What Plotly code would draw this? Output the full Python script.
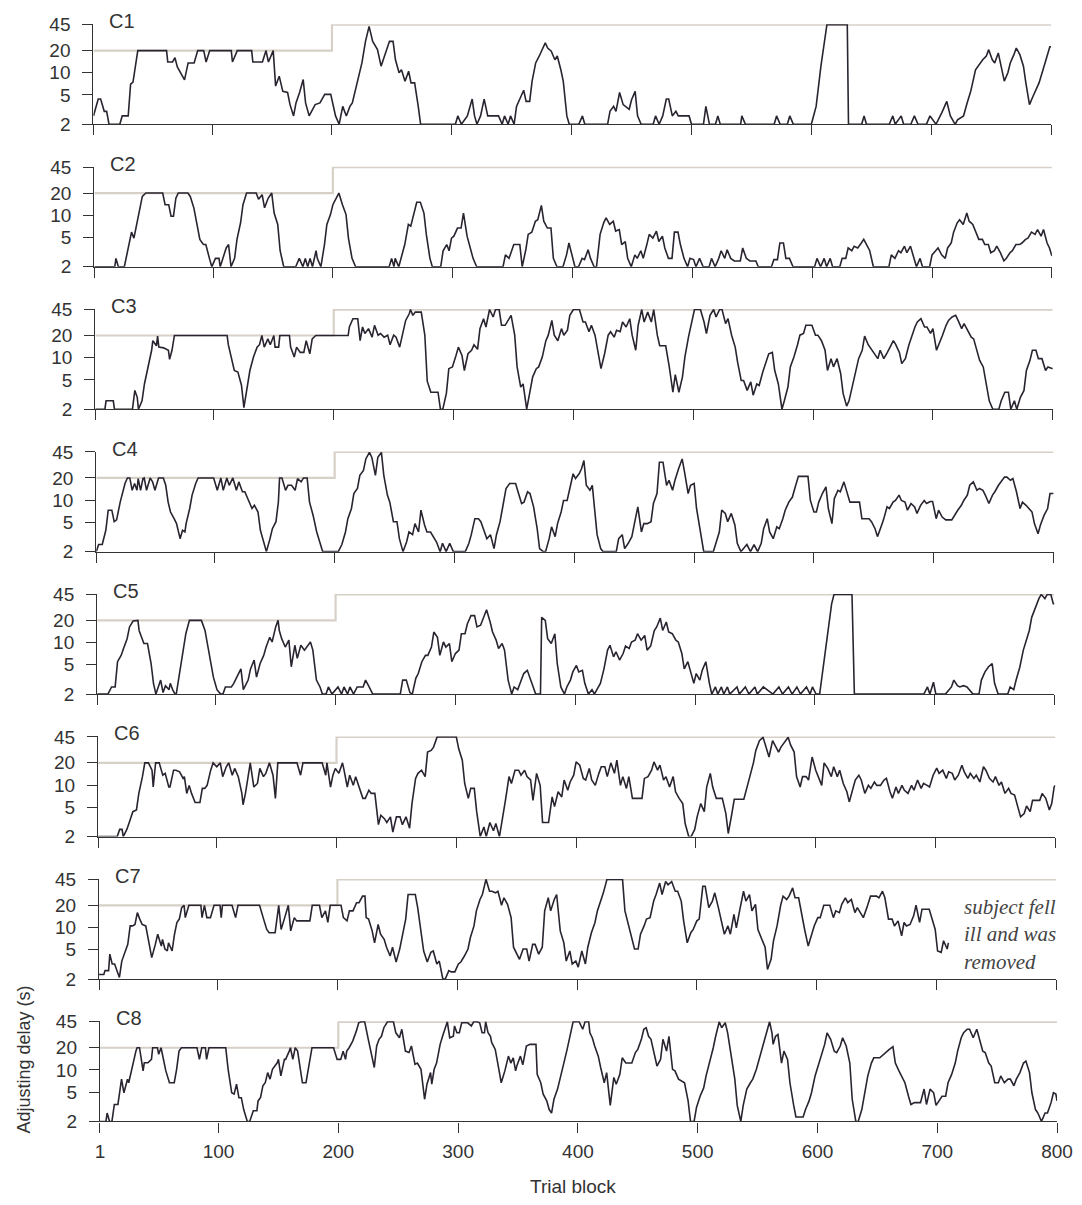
import numpy as np
import plotly.graph_objects as go

# adjusting delay (s) per trial block as (block, delay)
c1 = [(1, 2.6), (5, 4.4), (7, 4.4), (10, 3.0), (12, 3.0), (14, 2), (23, 2), (25, 2.6), (30, 2.6), (32, 7), (34, 7.5),
      (38, 20), (62, 20), (63, 14), (67, 14), (69, 16), (71, 12), (77, 8), (80, 13.6), (85, 13.6), (88, 20), (93, 20),
      (95, 14), (98, 20), (116, 20), (117, 14), (121, 20), (133, 20), (134, 14), (142, 14), (145, 20), (147, 14),
      (151, 20), (153, 6.6), (156, 9), (159, 5.6), (163, 5.4), (165, 3.7), (168, 2.6), (170, 3.9), (173, 5.4),
      (176, 8.1), (178, 3.9), (181, 2.6), (183, 3.0), (186, 3.7), (190, 3.9), (194, 5.1), (199, 5.1), (201, 3.7),
      (203, 2.6), (206, 2), (209, 3.5), (212, 2.6), (215, 3.5), (217, 3.9), (221, 7), (225, 13.6), (228, 26.7),
      (231, 42.6), (234, 26.7), (238, 20.6), (241, 12.3), (245, 18.6), (248, 26.7), (251, 26.7), (253, 15), (256, 10),
      (258, 11), (261, 7.7), (264, 10.5), (266, 7.3), (269, 7.3), (272, 3.5), (274, 2), (303, 2), (305, 2.6), (308, 2),
      (313, 2.6), (317, 4.4), (319, 2.6), (321, 2), (324, 2.6), (327, 4.4), (330, 2.6), (339, 2.6), (342, 2), (344, 2.6),
      (347, 2), (349, 2.6), (352, 2), (354, 3.5), (357, 4.4), (360, 5.8), (362, 4.1), (365, 4.1), (367, 7.7),
      (370, 13.6), (373, 16.9), (375, 19.6), (378, 25.4), (380, 21.6), (383, 19.6), (386, 15), (388, 16.9), (391, 11),
      (393, 7.7), (396, 2.6), (398, 2), (406, 2), (409, 2.6), (411, 2), (430, 2), (432, 3.0), (435, 3.5), (437, 3.0),
      (440, 5.4), (443, 3.7), (445, 3.5), (448, 3.2), (450, 4.3), (453, 5.6), (455, 2.6), (458, 2), (468, 2), (470, 2.6),
      (473, 2), (476, 2.6), (479, 4.4), (481, 4.4), (484, 2.6), (487, 3.0), (489, 2.6), (498, 2.6), (500, 2), (510, 2),
      (512, 3.5), (515, 2), (520, 2), (522, 2.6), (524, 2), (541, 2), (542, 2.6), (545, 2), (569, 2), (571, 2.6),
      (574, 2), (580, 2), (582, 2.6), (585, 2), (600, 2), (604, 3.5), (608, 12.3), (613, 45), (630, 45), (631, 2),
      (642, 2), (644, 2.6), (646, 2), (665, 2), (668, 2.6), (670, 2), (675, 2.6), (677, 2), (683, 2), (686, 2.6),
      (689, 2), (696, 2), (699, 2.6), (704, 2), (709, 2.9), (713, 4.1), (716, 2.6), (720, 2), (722, 2.3), (727, 2.6),
      (730, 3.9), (733, 5.6), (737, 11), (741, 13.6), (743, 15), (746, 16.9), (748, 20.6), (751, 15), (753, 13.6),
      (756, 18.6), (759, 11), (761, 7.7), (764, 10), (766, 13.6), (769, 17.6), (771, 21.6), (774, 17.6), (777, 12.3),
      (779, 7.3), (782, 3.7), (785, 4.8), (790, 7.3), (795, 13.6), (799, 22.5), (800, 22.5)]

c2 = [(1, 2), (18, 2), (19, 2.6), (21, 2), (26, 2), (30, 4.0), (32, 5.9), (34, 4.9), (36, 7.1), (38, 10.2), (41, 18),
      (44, 20), (58, 20), (60, 13.9), (63, 13.9), (65, 9.7), (67, 9.7), (69, 17), (71, 20), (79, 20), (81, 18),
      (84, 12.6), (87, 6.7), (89, 4.7), (92, 4.0), (94, 4.0), (97, 2.6), (99, 2), (102, 2.6), (105, 2.6), (106, 2),
      (109, 2.9), (111, 3.6), (113, 4.0), (115, 2), (118, 2.6), (120, 4.7), (123, 7.9), (125, 13.9), (128, 20),
      (136, 20), (138, 16.5), (141, 19), (143, 12.6), (146, 17), (149, 20), (151, 10.7), (154, 7.5), (156, 3.3),
      (159, 2), (169, 2), (172, 2.6), (175, 2), (177, 2.6), (179, 2), (181, 2.6), (183, 2), (186, 3.3), (187, 2.6),
      (190, 2), (193, 4.0), (195, 7.5), (198, 10.2), (200, 13.9), (205, 20), (208, 13.9), (211, 10.2), (213, 4.9),
      (216, 2.6), (219, 2), (247, 2), (249, 2.6), (251, 2), (252, 2.6), (255, 2), (260, 4.0), (263, 7.5), (265, 7.1),
      (268, 11.3), (270, 15), (273, 15), (276, 10.7), (278, 5.5), (281, 2.6), (283, 2), (290, 2), (292, 3.3), (295, 4.0),
      (297, 3.3), (299, 4.9), (301, 5.2), (304, 6.7), (307, 6.7), (309, 10.7), (312, 5.2), (314, 4.0), (317, 2.6),
      (320, 2), (342, 2), (344, 2.9), (347, 2.6), (351, 4.0), (356, 4.0), (358, 2), (361, 3.4), (363, 5.5), (366, 5.9),
      (369, 8.3), (371, 8.7), (374, 13.6), (376, 8.3), (379, 6.7), (382, 6.7), (384, 2.6), (387, 2), (392, 2),
      (395, 2.9), (397, 4.2), (400, 2.6), (402, 2), (405, 2), (408, 2.6), (410, 2.5), (413, 3.4), (415, 2.6), (418, 2),
      (420, 2), (423, 5.5), (426, 7.9), (428, 9.2), (431, 7.5), (434, 8.3), (436, 6.1), (439, 6.4), (441, 4.0),
      (444, 4.4), (446, 2.6), (449, 2), (452, 2.9), (454, 2.6), (457, 3.3), (459, 2.6), (462, 4.0), (464, 5.5),
      (467, 4.9), (470, 6.1), (472, 4.4), (475, 5.2), (477, 3.6), (480, 2.6), (483, 2.6), (485, 5.9), (488, 5.9),
      (490, 4.0), (493, 2.6), (496, 2), (498, 2.6), (501, 2.5), (503, 2), (506, 2.6), (509, 2), (514, 2), (516, 2.6),
      (519, 2), (522, 2.6), (524, 3.3), (527, 2.6), (529, 3.4), (532, 2.6), (535, 2.4), (540, 2.4), (542, 3.6),
      (545, 2.6), (548, 2.4), (553, 2.4), (555, 2), (566, 2), (568, 2.5), (571, 2.5), (573, 4.2), (576, 4.2), (578, 2.6),
      (581, 2.6), (584, 2), (602, 2), (604, 2.6), (607, 2), (610, 2.6), (612, 2), (615, 2.6), (617, 2), (623, 2),
      (625, 2.6), (628, 2.6), (630, 3.6), (633, 3.3), (635, 3.8), (638, 3.6), (641, 4.2), (643, 4.7), (646, 3.8),
      (648, 3.3), (651, 2), (664, 2), (666, 2.9), (669, 2.6), (672, 3.3), (674, 3.1), (677, 3.8), (679, 3.1), (682, 3.8),
      (685, 2.6), (687, 2), (690, 2.6), (692, 2), (698, 2), (700, 2.9), (703, 3.3), (705, 3.6), (708, 2.9), (711, 2.6),
      (713, 3.6), (716, 4.2), (718, 5.9), (721, 7.9), (723, 8.7), (726, 7.5), (729, 10.7), (731, 8.3), (734, 7.5),
      (737, 5.5), (739, 4.7), (742, 4.7), (744, 4.0), (747, 4.0), (749, 3.1), (752, 3.3), (754, 3.8), (757, 3.1),
      (760, 2.4), (762, 2.6), (765, 3.1), (767, 3.3), (770, 4.0), (773, 4.0), (775, 4.2), (778, 4.7), (780, 4.9),
      (783, 5.9), (786, 5.5), (788, 6.4), (791, 5.2), (793, 6.4), (796, 4.2), (798, 3.6), (800, 2.8)]

c3 = [(1, 2), (9, 2), (10, 2.6), (16, 2.6), (17, 2), (32, 2), (34, 3.6), (36, 2.9), (37, 2), (40, 2.6), (42, 4.4),
      (45, 7.5), (48, 12.6), (49, 17), (52, 14.5), (53, 19.6), (54, 13.9), (58, 13.6), (62, 12.6), (63, 9.5),
      (65, 12.6), (67, 20), (111, 20), (112, 15), (115, 9.2), (117, 6.7), (120, 6.4), (123, 4.2), (125, 2.1), (128, 4.0),
      (130, 6.7), (133, 10.2), (136, 13.9), (138, 15), (140, 20), (142, 13.9), (145, 18), (147, 15), (150, 20),
      (151, 13.9), (154, 13.9), (155, 20), (163, 20), (164, 13.9), (167, 10.2), (169, 13.9), (172, 11.8), (175, 11.8),
      (177, 17), (180, 11.3), (182, 18), (185, 20), (212, 20), (213, 26.1), (216, 33.8), (220, 33.8), (222, 17),
      (224, 26.1), (226, 21.3), (229, 24.8), (232, 19), (234, 27.5), (237, 20.2), (239, 21.3), (242, 19), (245, 20.2),
      (247, 15), (250, 20.2), (252, 19), (255, 13.9), (257, 19), (260, 32), (263, 39.4), (264, 45), (266, 37.5),
      (268, 41.5), (273, 41.5), (276, 20.2), (278, 4.8), (281, 3.4), (287, 3.4), (289, 2), (291, 2), (294, 3.3),
      (296, 7.1), (299, 7.5), (302, 10.7), (304, 13.9), (307, 10.7), (309, 6.7), (312, 11.3), (315, 12.6), (317, 15),
      (320, 13), (322, 24.8), (325, 33.8), (327, 26.1), (330, 45), (333, 35.6), (335, 45), (338, 45), (340, 27.5),
      (343, 27.5), (348, 37.5), (351, 20.2), (353, 7.5), (356, 4.0), (358, 4.4), (361, 2), (364, 4.0), (366, 5.5),
      (369, 7.1), (371, 7.5), (374, 10.2), (377, 17), (379, 20.2), (382, 32), (384, 20.2), (387, 17), (390, 24.8),
      (392, 20.2), (395, 23.6), (397, 37.5), (400, 45), (405, 45), (408, 30.5), (410, 30.5), (413, 22.5), (415, 27.5),
      (418, 20.2), (420, 12.6), (423, 7.1), (426, 11.3), (429, 20.2), (431, 22.5), (434, 19), (436, 23.6), (439, 22.5),
      (441, 30.5), (444, 26.1), (447, 33.8), (449, 20.2), (452, 12.6), (454, 27.5), (457, 45), (459, 30.5), (462, 41.5),
      (465, 30.5), (467, 45), (470, 20.2), (472, 14.5), (477, 14.5), (480, 7.5), (483, 3.4), (485, 5.9), (488, 3.4),
      (491, 5.5), (493, 10.2), (496, 19), (498, 26.1), (501, 45), (506, 45), (509, 30.5), (511, 21.3), (514, 37.5),
      (517, 45), (519, 35.6), (522, 45), (524, 45), (527, 29), (529, 33.8), (532, 20.2), (535, 13.9), (537, 8.7),
      (540, 4.9), (542, 4.9), (545, 3.6), (548, 4.7), (550, 3.1), (553, 4.4), (555, 4.2), (558, 6.4), (561, 8.7),
      (563, 11.3), (566, 11.8), (568, 6.7), (571, 4.4), (574, 2), (576, 2.6), (579, 4.0), (581, 7.5), (584, 10.2),
      (587, 15), (589, 20.2), (592, 21.3), (594, 27.5), (599, 27.5), (602, 20.2), (604, 20.2), (607, 17), (610, 12.6),
      (612, 6.7), (615, 9.7), (617, 7.5), (620, 9.7), (623, 6.1), (625, 3.3), (628, 2.2), (630, 2.6), (633, 4.4),
      (636, 7.1), (638, 9.7), (641, 12.6), (643, 19.6), (646, 15), (649, 12.6), (651, 11.3), (654, 9.7), (656, 12.6),
      (659, 9.7), (662, 11.8), (664, 13.9), (667, 17), (669, 15), (672, 11.8), (674, 8.3), (677, 9.7), (680, 15),
      (682, 19), (685, 26.1), (687, 30.5), (690, 33.8), (693, 26.1), (695, 26.1), (698, 21.3), (700, 24.8), (703, 12.6),
      (706, 16.3), (708, 20.2), (711, 27.5), (713, 32), (716, 35.6), (719, 37.5), (721, 32), (724, 24.8), (726, 29),
      (729, 23.6), (732, 19), (734, 18), (737, 12.6), (739, 9.2), (742, 7.5), (745, 4.0), (747, 2.6), (750, 2),
      (755, 2), (757, 2.6), (760, 3.4), (763, 3.4), (765, 2), (768, 2.6), (770, 2), (773, 2.9), (776, 3.6), (778, 6.7),
      (781, 9.2), (783, 12.6), (786, 12.6), (788, 9.7), (791, 9.7), (794, 6.7), (796, 7.5), (800, 7.1)]

c4 = [(1, 2), (3, 2.5), (6, 2.5), (9, 3.9), (11, 7.3), (14, 7.3), (16, 5.1), (18, 5.4), (21, 9.4), (23, 13),
      (25, 16.8), (27, 20), (29, 20), (31, 13.6), (33, 16.8), (35, 13.6), (36, 19.6), (38, 13.6), (40, 19.6), (41, 20),
      (43, 13.6), (46, 20), (48, 17.7), (50, 13.6), (53, 20), (57, 20), (59, 15.9), (61, 9.4), (63, 6.9), (66, 5.6),
      (68, 4.8), (71, 3.0), (73, 3.9), (75, 3.7), (76, 4.8), (79, 7.7), (81, 11.7), (84, 16.8), (86, 20), (99, 20),
      (102, 13.6), (105, 20), (107, 13.6), (110, 20), (112, 15.9), (115, 20), (118, 13.6), (120, 17.7), (123, 13),
      (125, 13), (128, 9.9), (131, 7.7), (133, 8.5), (136, 6.9), (138, 3.9), (141, 2.5), (143, 2), (146, 3.0),
      (148, 4.1), (151, 5.1), (153, 9.4), (154, 20), (156, 20), (159, 13.6), (161, 15.9), (164, 15.9), (167, 13.6),
      (169, 19.6), (172, 17.7), (174, 20), (177, 20), (179, 9.4), (182, 6.2), (185, 3.7), (188, 2.5), (190, 2),
      (203, 2), (206, 2.5), (209, 3.7), (211, 5.6), (214, 7.7), (216, 12.3), (219, 14.4), (221, 21.7), (224, 25.3),
      (226, 36.2), (229, 44.4), (231, 38), (234, 21.7), (236, 38), (239, 44.4), (241, 21.7), (244, 11.7), (246, 9.4),
      (249, 5.1), (252, 5.1), (254, 3.0), (257, 2), (260, 2.7), (262, 3.7), (265, 3.4), (267, 4.8), (270, 3.7),
      (272, 7.3), (275, 4.6), (277, 3.7), (280, 3.7), (283, 3.0), (285, 2.7), (288, 2), (290, 2.6), (293, 2), (296, 2.6),
      (299, 2), (309, 2), (312, 2.6), (314, 3.4), (317, 5.6), (320, 5.6), (322, 5.1), (325, 3.7), (327, 3.0), (330, 3.4),
      (333, 2.2), (335, 3.4), (338, 5.1), (340, 7.7), (343, 14.4), (346, 16.8), (351, 16.8), (353, 13), (356, 9.0),
      (358, 9.4), (361, 13), (363, 12.3), (366, 8.1), (369, 4.1), (371, 2.2), (374, 2), (376, 2), (379, 3.0),
      (381, 4.35), (384, 3.2), (386, 4.8), (389, 6.9), (391, 9.9), (394, 9.9), (396, 13.6), (399, 22.8), (401, 19.6),
      (404, 22.8), (406, 26.6), (408, 34.4), (410, 15.9), (413, 13.6), (415, 15.9), (417, 6.9), (419, 3.4), (422, 2.2),
      (424, 2), (435, 2), (437, 3.0), (440, 3.4), (442, 2.2), (445, 2.6), (448, 3.2), (451, 5.6), (453, 8.1), (456, 3.7),
      (458, 4.8), (461, 4.8), (464, 5.1), (466, 9.0), (469, 12.3), (471, 32.7), (474, 32.7), (477, 15.9), (479, 18.6),
      (482, 13.6), (484, 18.6), (487, 26.6), (490, 36.2), (492, 24), (495, 12.3), (497, 15.9), (500, 16.8), (502, 7.7),
      (505, 3.7), (508, 2), (516, 2), (518, 2.6), (521, 3.7), (523, 7.3), (526, 6.6), (528, 5.1), (531, 6.6), (534, 4.6),
      (536, 2.6), (539, 2), (544, 2.5), (547, 2), (550, 2.5), (553, 2), (556, 2.6), (558, 4.1), (561, 5.6), (563, 3.7),
      (566, 3.0), (569, 4.35), (571, 4.1), (574, 5.6), (576, 7.3), (579, 9.4), (582, 11), (584, 14.4), (587, 21),
      (595, 21), (597, 9.9), (600, 6.9), (602, 6.9), (604, 9.4), (607, 12.3), (610, 15.1), (612, 7.7), (615, 4.8),
      (617, 10.5), (620, 13.6), (622, 13), (625, 17.7), (628, 12.3), (630, 9.4), (638, 9.4), (640, 5.6), (646, 5.6),
      (648, 5.1), (651, 4.1), (653, 3.2), (656, 4.35), (658, 5.4), (661, 8.1), (663, 7.7), (666, 9.4), (668, 9.9),
      (671, 11.7), (673, 9.9), (676, 9.4), (678, 7.3), (681, 9.0), (684, 8.1), (686, 6.6), (689, 8.5), (692, 9.9),
      (694, 9.0), (697, 9.6), (699, 9.6), (702, 5.6), (704, 7.3), (707, 5.9), (710, 5.4), (715, 5.4), (718, 6.6),
      (720, 7.3), (723, 8.5), (725, 9.9), (728, 11.7), (730, 15.9), (733, 17.7), (736, 13.6), (738, 14.4), (741, 13.6),
      (743, 11.7), (746, 9.0), (749, 11.7), (751, 13), (754, 15.9), (756, 17.7), (759, 20.5), (761, 20.5), (764, 18.6),
      (766, 19.6), (769, 13), (772, 7.7), (774, 9.4), (777, 8.5), (779, 7.7), (782, 6.9), (784, 4.8), (787, 3.5),
      (789, 4.6), (792, 6.2), (795, 7.7), (797, 12.3), (800, 12.3)]

c5 = [(1, 2), (10, 2), (13, 2.5), (16, 2.5), (18, 5.5), (21, 6.7), (23, 8.3), (26, 11.3), (28, 16.3), (31, 19.6),
      (35, 20), (36, 14.6), (40, 9.7), (43, 9.7), (46, 5.2), (48, 2.8), (50, 2), (52, 2.5), (54, 3.1), (56, 2.1),
      (58, 2.6), (61, 2.3), (62, 2.8), (64, 2.3), (66, 2), (67, 2), (70, 4.2), (73, 7.9), (75, 13.2), (78, 20), (88, 20),
      (91, 14.6), (93, 9.7), (96, 5.5), (98, 3.4), (101, 2.3), (104, 2), (106, 2), (108, 2.5), (113, 2.5), (115, 2.8),
      (119, 3.8), (121, 4.4), (123, 2.3), (127, 3.1), (129, 4.4), (132, 5.8), (134, 3.4), (137, 5.2), (140, 6.7),
      (142, 8.7), (145, 11.8), (147, 10.2), (150, 16.3), (152, 20), (153, 14.6), (155, 11.3), (158, 8.7), (161, 10.8),
      (163, 4.7), (166, 9.2), (168, 6.1), (171, 9.2), (174, 7.9), (176, 8.7), (179, 10.2), (181, 7.9), (184, 3.1),
      (187, 2.5), (189, 2), (192, 2), (194, 2.5), (197, 2), (202, 2.5), (205, 2), (207, 2.5), (210, 2), (212, 2.5),
      (215, 2), (218, 2.5), (223, 2.5), (225, 3.1), (228, 2.5), (231, 2), (254, 2), (256, 3.1), (259, 3.1), (262, 2.1),
      (264, 2), (267, 3.3), (269, 3.8), (272, 5.5), (275, 6.7), (277, 6.7), (280, 8.7), (282, 13.9), (285, 11.8),
      (287, 6.7), (290, 10.2), (292, 8.7), (295, 9.7), (297, 5.5), (300, 7.1), (303, 7.9), (305, 13.2), (308, 13.2),
      (310, 18), (313, 23.2), (316, 23.2), (318, 16.3), (321, 17.2), (323, 21.1), (326, 27.9), (329, 19), (331, 13.9),
      (334, 10.8), (336, 8.3), (339, 9.7), (341, 7.9), (344, 3.1), (347, 2), (349, 2.5), (352, 2.3), (354, 2.8),
      (357, 3.8), (360, 4.2), (362, 3.4), (365, 2.5), (367, 2), (371, 2), (372, 22), (375, 20), (377, 11.3), (380, 9.7),
      (383, 13.2), (385, 5.2), (388, 2.5), (391, 2), (393, 2.5), (396, 3.1), (398, 4.0), (401, 4.9), (403, 4.0),
      (406, 4.2), (408, 2.8), (411, 2), (414, 2.3), (416, 2), (419, 2.5), (421, 2.8), (424, 4.4), (427, 7.9), (429, 9.2),
      (432, 6.4), (434, 7.5), (437, 5.8), (440, 7.1), (442, 9.0), (445, 8.3), (447, 10.2), (450, 10.8), (452, 13.2),
      (455, 10.8), (458, 12.5), (460, 7.9), (463, 9.0), (466, 14.6), (468, 16.3), (471, 21.5), (473, 14.6), (476, 19),
      (478, 13.9), (481, 13.2), (484, 10.8), (486, 10.2), (489, 7.1), (491, 4.4), (494, 5.5), (496, 4.2), (499, 2.8),
      (501, 3.8), (504, 3.1), (506, 4.2), (509, 5.5), (512, 2.8), (514, 2), (517, 2.5), (519, 2), (522, 2.5), (524, 2),
      (527, 2.5), (529, 2), (535, 2.5), (537, 2), (542, 2.5), (545, 2), (550, 2.5), (552, 2), (557, 2.5), (565, 2),
      (570, 2.5), (573, 2), (578, 2.5), (581, 2), (585, 2.5), (588, 2), (593, 2.5), (596, 2), (598, 2.5), (601, 2),
      (604, 2), (609, 7.9), (614, 33.6), (616, 45), (631, 45), (633, 2), (691, 2), (694, 2.5), (696, 2), (699, 2.9),
      (701, 2), (709, 2), (714, 2.5), (716, 3.1), (719, 2.6), (721, 2.5), (724, 2.6), (727, 2.5), (729, 2.3), (732, 2),
      (737, 2), (739, 3.1), (742, 4.0), (745, 4.7), (748, 5.2), (750, 2.8), (753, 2), (761, 2), (763, 2.5), (766, 2.3),
      (768, 3.1), (771, 4.6), (774, 7.9), (776, 10.2), (779, 14.6), (781, 22), (784, 30), (787, 39.4), (789, 45),
      (792, 39.4), (794, 45), (797, 45), (799, 33.6), (800, 33.6)]

c6 = [(1, 2), (17, 2), (19, 2.5), (21, 2.5), (22, 2), (25, 2.5), (27, 3.1), (30, 4.35), (33, 4.6), (35, 7.7), (38, 13),
      (40, 20), (43, 20), (46, 15.9), (47, 9.4), (49, 20), (52, 20), (55, 13.6), (57, 14.4), (60, 9.4), (61, 9.4),
      (64, 15.9), (66, 15.9), (69, 15.1), (72, 12.3), (73, 13), (75, 7.7), (77, 9.9), (79, 7.7), (82, 5.8), (86, 5.8),
      (88, 9.0), (90, 9.0), (92, 9.9), (95, 15.9), (97, 20), (100, 17.7), (103, 20), (105, 13), (108, 17.7), (110, 20),
      (113, 13.6), (115, 16.8), (118, 13), (121, 7.7), (122, 5.4), (124, 7.7), (126, 13), (128, 20), (131, 9.4),
      (134, 10.5), (136, 16.8), (139, 13), (141, 14.4), (144, 20), (147, 13.6), (149, 6.6), (151, 20), (167, 20),
      (170, 13.6), (172, 20), (188, 20), (191, 13.6), (192, 20), (195, 9.4), (197, 13.6), (199, 16.8), (202, 14.4),
      (205, 20), (206, 16.8), (209, 9.4), (211, 13.6), (214, 9.9), (216, 13), (219, 9.0), (222, 6.6), (224, 6.6),
      (227, 8.5), (229, 7.7), (232, 7.7), (235, 2.9), (237, 3.9), (240, 3.5), (242, 3.1), (245, 3.7), (247, 2.3),
      (250, 3.7), (253, 3.7), (255, 2.9), (258, 3.7), (261, 2.6), (263, 5.6), (266, 12.3), (268, 14.4), (271, 15.9),
      (274, 13), (276, 28), (279, 29.5), (281, 32.7), (284, 45), (300, 45), (302, 31), (305, 21.7), (307, 10.5),
      (310, 6.6), (312, 9.0), (315, 9.0), (317, 4.35), (320, 2), (323, 2.7), (325, 2), (328, 3.1), (331, 2.4), (333, 3.0),
      (336, 2), (339, 3.7), (341, 6.2), (344, 13), (346, 10.5), (349, 15.9), (352, 15.9), (354, 13.6), (357, 15.9),
      (359, 13), (362, 11.7), (364, 6.2), (367, 14.4), (370, 9.9), (372, 3.1), (377, 3.1), (380, 6.9), (382, 5.1),
      (385, 8.1), (388, 6.9), (390, 11.7), (393, 8.5), (395, 11), (398, 13.6), (400, 20.6), (403, 18.6), (406, 12.3),
      (408, 11.7), (411, 16.8), (413, 11.7), (416, 9.9), (419, 14.4), (421, 17.7), (424, 17.7), (426, 13), (429, 20),
      (432, 14.4), (434, 21.7), (437, 9.9), (439, 13), (442, 9.0), (444, 13), (447, 6.6), (455, 6.6), (457, 12.3),
      (460, 13), (463, 15.9), (465, 20.6), (468, 15.9), (470, 18.6), (473, 11.7), (475, 13), (478, 9.4), (481, 13),
      (483, 8.1), (486, 6.6), (489, 5.6), (491, 3.0), (494, 2), (496, 2), (499, 2.5), (501, 3.7), (504, 5.6),
      (507, 4.35), (509, 9.4), (512, 14.4), (514, 9.4), (517, 6.6), (522, 6.6), (525, 4.1), (527, 2.2), (530, 4.1),
      (532, 6.4), (540, 6.4), (543, 9.4), (545, 13), (548, 20), (550, 29.5), (553, 40), (556, 44.4), (558, 35), (561, 24),
      (564, 40), (566, 35), (569, 28), (571, 32.7), (574, 38), (577, 44.4), (579, 35), (582, 28), (584, 13), (587, 9.4),
      (589, 13), (592, 13), (594, 11.7), (597, 24), (600, 15.9), (602, 13), (605, 9.9), (607, 20), (610, 16.8),
      (613, 13), (615, 17.7), (618, 13), (620, 15.9), (623, 10.5), (626, 8.1), (628, 5.9), (631, 9.0), (633, 11.7),
      (636, 13.6), (638, 11.7), (641, 7.7), (644, 9.9), (646, 9.0), (649, 11), (651, 9.9), (654, 9.9), (657, 11.7),
      (659, 12.3), (662, 8.1), (664, 6.6), (667, 9.4), (669, 7.7), (672, 9.9), (674, 8.5), (677, 7.7), (680, 9.9),
      (682, 8.5), (685, 11.7), (688, 9.0), (690, 10.5), (693, 9.9), (695, 9.4), (698, 13.6), (701, 17), (703, 14.4),
      (706, 15.9), (709, 12.3), (711, 15.1), (714, 14.4), (716, 11.7), (719, 13.6), (722, 18.6), (724, 15.1),
      (727, 12.3), (729, 14.4), (732, 12.3), (734, 13.6), (737, 11), (740, 17.7), (742, 15.9), (745, 12.3), (748, 11),
      (750, 13), (753, 9.9), (755, 11), (758, 7.7), (761, 9.0), (763, 7.7), (766, 7.3), (768, 5.6), (771, 3.7),
      (774, 4.1), (776, 5.2), (779, 4.35), (781, 6.2), (784, 6.2), (787, 6.2), (789, 7.7), (792, 6.6), (795, 4.6),
      (797, 5.6), (799, 9.4), (800, 9.9)]

# C7 stops at block 710 (subject removed)
c7 = [(1, 2.3), (5, 2.3), (6, 2.6), (9, 2.6), (10, 4.35), (12, 3.2), (14, 3.2), (17, 2.3), (18, 2.1), (20, 3.5),
      (23, 4.8), (25, 5.9), (27, 10.5), (29, 10.5), (31, 11), (33, 15.9), (35, 13), (37, 11), (40, 10.5), (42, 7.3),
      (45, 3.9), (48, 5.9), (50, 8.1), (53, 5.6), (54, 6.9), (56, 5.1), (58, 4.8), (59, 6.2), (62, 4.8), (64, 8.1),
      (66, 11.7), (68, 13), (70, 18.6), (72, 20), (73, 13.6), (76, 20), (86, 20), (87, 13.6), (89, 20), (91, 13.6),
      (94, 13.6), (97, 20), (102, 20), (103, 13.6), (104, 20), (112, 20), (115, 13.6), (117, 20), (135, 20), (138, 13.6),
      (141, 9.4), (143, 8.5), (148, 8.5), (151, 20), (153, 9.4), (156, 13.6), (159, 20), (161, 9.0), (164, 13.6),
      (166, 12.3), (177, 12.3), (179, 20), (185, 20), (187, 13.6), (190, 16.8), (192, 11.7), (194, 20), (203, 20),
      (205, 13.6), (208, 12.3), (210, 16.8), (213, 16.8), (216, 21.7), (218, 21.7), (221, 26.6), (223, 26.6),
      (224, 13.6), (226, 13), (229, 9.0), (231, 6.2), (234, 11), (236, 8.1), (239, 6.9), (241, 5.4), (244, 4.1),
      (246, 5.4), (249, 3.4), (252, 5.1), (254, 7.3), (257, 13), (259, 28), (265, 28), (267, 18.6), (270, 9.0),
      (272, 4.8), (275, 3.4), (278, 4.6), (280, 4.8), (283, 3.2), (285, 3.5), (288, 2), (290, 2), (293, 2.6), (295, 2.5),
      (298, 2.5), (301, 3.2), (303, 3.4), (306, 4.1), (309, 5.1), (311, 7.3), (314, 10.5), (316, 16.8), (319, 24),
      (321, 28), (324, 45), (327, 31), (329, 31), (332, 29.5), (334, 31), (337, 20), (339, 25.3), (342, 20.6),
      (345, 13.6), (347, 5.4), (350, 4.35), (352, 3.7), (355, 5.1), (358, 5.1), (360, 3.5), (363, 5.9), (365, 5.9),
      (368, 4.35), (371, 5.4), (373, 16.8), (376, 25.3), (378, 16.8), (381, 24), (383, 28), (386, 9.0), (389, 6.2),
      (391, 3.5), (394, 4.8), (396, 3.2), (399, 3.5), (401, 2.9), (404, 4.8), (407, 3.2), (409, 5.4), (412, 8.5),
      (415, 11.7), (417, 16.8), (420, 22.8), (422, 29.5), (425, 45), (438, 45), (440, 16.8), (443, 10.5), (445, 7.7),
      (448, 5.1), (451, 5.1), (453, 8.1), (456, 10.5), (458, 13), (461, 13.6), (464, 22.8), (466, 28), (469, 40),
      (471, 28), (474, 42), (476, 38), (479, 42), (482, 31), (484, 31), (487, 22.8), (489, 12.3), (492, 6.2), (495, 8.5),
      (497, 9.4), (500, 12.3), (502, 13), (505, 36.2), (507, 36.2), (510, 18.6), (513, 22.8), (515, 29.5), (518, 18.6),
      (520, 13.6), (523, 8.1), (526, 10.5), (528, 8.1), (531, 15.1), (533, 9.9), (536, 17.7), (539, 31), (541, 22.8),
      (544, 28), (546, 16.8), (549, 20.6), (551, 9.4), (554, 7.3), (557, 5.4), (559, 2.7), (562, 3.7), (564, 6.6),
      (567, 10.5), (570, 20), (572, 26.6), (575, 24), (577, 26.6), (580, 34.4), (582, 25.3), (585, 25.3), (588, 13.6),
      (590, 9.4), (593, 5.6), (595, 7.3), (598, 10.5), (601, 13.6), (603, 13.6), (606, 20), (611, 20), (614, 13.6),
      (616, 16.8), (619, 15.9), (621, 20.6), (624, 25.3), (626, 21.7), (629, 24), (632, 15.9), (634, 18.6), (637, 15.1),
      (639, 13.6), (642, 18.6), (645, 26.6), (650, 26.6), (652, 25.3), (655, 31), (657, 25.3), (660, 13), (663, 13),
      (665, 10.5), (668, 12.3), (671, 7.7), (673, 11.7), (675, 10.5), (678, 11), (681, 14.4), (683, 20), (686, 11.7),
      (688, 17.7), (694, 17.7), (696, 13.6), (699, 9.4), (701, 4.8), (704, 4.6), (706, 6.6), (709, 5.1), (710, 6.2)]

c8 = [(1, 2), (6, 2), (7, 2.6), (9, 2), (11, 2), (13, 3.4), (16, 3.4), (19, 7.5), (21, 4.9), (24, 7.5), (25, 6.7),
      (28, 11.3), (31, 18), (32, 20), (34, 20), (36, 12.5), (37, 9.7), (38, 12.5), (41, 12.5), (44, 13.9), (45, 20),
      (49, 20), (50, 16.3), (52, 20), (54, 13.9), (56, 9.7), (59, 6.7), (63, 6.7), (65, 10.2), (67, 18), (69, 20),
      (82, 20), (84, 13.9), (86, 20), (89, 20), (90, 13.9), (92, 20), (106, 20), (108, 10.2), (111, 4.9), (113, 4.7),
      (115, 6.4), (117, 4.2), (119, 4.2), (121, 2.9), (124, 2), (126, 2), (129, 2.8), (132, 2.8), (133, 3.8), (135, 4.2),
      (137, 6.1), (139, 6.7), (141, 9.2), (143, 7.5), (145, 10.2), (147, 11.3), (149, 12.5), (150, 13.9), (152, 8.3),
      (155, 13.9), (156, 13.9), (159, 18), (160, 20), (162, 13.9), (164, 20), (166, 18), (168, 10.2), (170, 6.7),
      (173, 6.7), (176, 13.9), (178, 20), (196, 20), (199, 13.9), (202, 13.9), (204, 18), (206, 13.9), (207, 18),
      (209, 20), (212, 24.6), (215, 33.6), (217, 43.6), (219, 45), (222, 45), (225, 26), (228, 16.3), (230, 10.8),
      (232, 21.1), (234, 26), (236, 28.6), (238, 37.4), (241, 45), (246, 45), (248, 31.9), (251, 27.3), (253, 35.6),
      (256, 18), (259, 17.2), (261, 21.1), (264, 11.9), (266, 12.4), (269, 10.2), (272, 4.0), (274, 6.4), (277, 9.2),
      (278, 6.4), (280, 10.2), (282, 12.4), (285, 22.2), (287, 28.6), (290, 41.2), (291, 45), (293, 27.3), (296, 28.6),
      (297, 39.5), (299, 31.9), (301, 31.9), (303, 43.6), (308, 43.6), (311, 39.5), (313, 45), (316, 45), (318, 43.6),
      (320, 31.9), (322, 31.9), (323, 45), (325, 31.9), (327, 28.6), (328, 23.6), (331, 19), (334, 10.2), (336, 6.7),
      (339, 9.7), (342, 15.4), (344, 12.4), (346, 14.6), (348, 9.7), (349, 11.3), (352, 15.4), (354, 11.7), (357, 21.1),
      (360, 22.2), (365, 22.2), (366, 8.7), (369, 6.7), (371, 4.7), (374, 3.8), (376, 2.9), (378, 2.6), (380, 4.0),
      (383, 5.5), (386, 8.3), (388, 11.9), (391, 19), (393, 27.3), (396, 45), (401, 45), (404, 35.6), (406, 45),
      (409, 45), (410, 31.9), (412, 27.3), (414, 21.1), (417, 15.4), (419, 10.8), (422, 6.7), (424, 9.2), (427, 3.3),
      (430, 7.9), (432, 6.4), (435, 8.7), (437, 14.6), (440, 12.4), (445, 12.4), (448, 17.2), (450, 19), (453, 26),
      (455, 35.6), (457, 37.4), (459, 28.6), (461, 26), (464, 15.4), (466, 11.3), (469, 13.9), (471, 26), (474, 18),
      (476, 28.6), (479, 10.2), (481, 9.7), (484, 7.5), (487, 7.1), (489, 6.7), (492, 3.8), (494, 2), (497, 2),
      (499, 3.1), (502, 4.4), (505, 5.7), (507, 8.3), (510, 12.4), (513, 20), (515, 28.6), (518, 45), (520, 37.4),
      (523, 43.6), (525, 31.9), (528, 14.6), (531, 7.5), (533, 3.3), (536, 2), (538, 3.3), (541, 5.5), (544, 6.7),
      (546, 7.5), (549, 10.2), (551, 13.2), (554, 20), (556, 27.3), (559, 39.5), (560, 45), (562, 31.9), (563, 22.2),
      (565, 28.6), (567, 30.2), (570, 12.4), (572, 18), (575, 13.9), (577, 6.7), (580, 3.4), (582, 2.3), (588, 2.3),
      (590, 2.9), (593, 3.8), (595, 4.9), (598, 8.3), (600, 10.8), (603, 16.3), (606, 22.2), (608, 31.9), (611, 26),
      (614, 18), (616, 17.2), (619, 21.1), (621, 27.3), (624, 21.1), (627, 12.4), (629, 4.0), (632, 2), (634, 2),
      (637, 2.9), (639, 4.4), (642, 8.3), (645, 12.4), (647, 14.6), (652, 14.6), (655, 16.3), (658, 18), (660, 19),
      (663, 20.7), (665, 12.4), (668, 9.7), (671, 7.9), (673, 6.7), (676, 4.4), (678, 3.4), (681, 3.6), (686, 3.6),
      (689, 5.5), (691, 3.4), (694, 5.5), (697, 4.9), (699, 3.3), (702, 4.0), (704, 4.4), (707, 4.4), (709, 6.7),
      (712, 8.7), (715, 12.4), (717, 18), (720, 27.3), (722, 32), (725, 35.6), (727, 35.6), (730, 27.3), (733, 35.6),
      (735, 27.3), (738, 18), (740, 17.2), (743, 12.4), (745, 11.3), (748, 6.7), (751, 6.7), (753, 8.3), (756, 6.7),
      (759, 7.5), (761, 7.5), (764, 6.1), (766, 7.5), (769, 9.2), (772, 12.4), (774, 13.2), (777, 9.2), (779, 4.9),
      (782, 2.9), (784, 2.6), (787, 2), (790, 2.6), (792, 2.6), (795, 3.6), (797, 4.9), (799, 4.7), (800, 3.8)]

panels = [("C1", c1), ("C2", c2), ("C3", c3), ("C4", c4),
          ("C5", c5), ("C6", c6), ("C7", c7), ("C8", c8)]

# criterion (maximum delay): 20 s up to block 200, then 45 s
criterion_block = [1, 200, 200, 800]
criterion_delay = [20, 20, 45, 45]

x_ticks = [1, 100, 200, 300, 400, 500, 600, 700, 800]
y_ticks = [2, 5, 10, 20, 45]

W, H = 1082, 1205
# the page lands a little shifted/shrunk in the photo; map wanted pixel -> paper
SX, OX = 0.98, 12.6
SY, OY = 0.9843, 17.1


def fx(p):
    return (p - OX) / SX / W


def fy(p):
    return 1 - (p - OY) / SY / H


SANS = "Liberation Sans, Arial, sans-serif"
WIDE = "DejaVu Sans, Verdana, sans-serif"
AXIS_COL = "#333333"

fig = go.Figure()
layout = dict(width=W, height=H, margin=dict(l=0, r=0, t=0, b=0),
              plot_bgcolor="white", paper_bgcolor="white", showlegend=False,
              font=dict(family=SANS, size=19, color=AXIS_COL))
annotations = []

for i, (name, pts) in enumerate(panels):
    n = i + 1
    sfx = "" if n == 1 else str(n)
    # panel box in reference pixels (scanned panels drift slightly to the right)
    left = 93 + i * 0.93
    right = 1050 + i * 0.86
    top = 23.3 + i * 142.7
    bottom = top + 100.3

    blocks = [p[0] for p in pts]
    delays = [p[1] for p in pts]

    fig.add_trace(go.Scatter(x=criterion_block, y=criterion_delay, mode="lines",
                             line=dict(color="#d7d0c7", width=2.2),
                             xaxis="x" + sfx, yaxis="y" + sfx, hoverinfo="skip"))
    fig.add_trace(go.Scatter(x=blocks, y=delays, mode="lines",
                             line=dict(color="#2a2430", width=1.6),
                             xaxis="x" + sfx, yaxis="y" + sfx, name=name))

    layout["xaxis" + sfx] = dict(
        domain=[fx(left), fx(right)], anchor="y" + sfx, range=[1, 800],
        tickvals=x_ticks, showticklabels=(n == len(panels)),
        ticks="outside", ticklen=10, tickwidth=1.3, tickcolor=AXIS_COL,
        ticklabelstandoff=3,
        showline=True, linecolor=AXIS_COL, linewidth=1.3,
        showgrid=False, zeroline=False, tickfont=dict(family=SANS, size=19))
    layout["yaxis" + sfx] = dict(
        domain=[fy(bottom), fy(top)], anchor="x" + sfx, type="log",
        range=[np.log10(2), np.log10(45) + 0.006],
        tickvals=y_ticks, ticktext=[str(v) for v in y_ticks],
        ticks="outside", ticklen=10, tickwidth=1.3, tickcolor=AXIS_COL,
        ticklabelstandoff=8,
        showline=True, linecolor=AXIS_COL, linewidth=1.3,
        showgrid=False, zeroline=False, tickfont=dict(family=SANS, size=19))

    annotations.append(dict(text=name, x=fx(left + 14), y=fy(top - 3),
                            xref="paper", yref="paper", xanchor="left", yanchor="middle",
                            showarrow=False, font=dict(family=SANS, size=20, color=AXIS_COL)))

annotations.append(dict(text="<i>subject fell<br>ill and was<br>removed</i>",
                        x=fx(961), y=fy(935), xref="paper", yref="paper",
                        xanchor="left", yanchor="middle", align="left", showarrow=False,
                        font=dict(family="Liberation Serif, Times New Roman, serif",
                                  size=21, color="#444444")))
annotations.append(dict(text="Adjusting delay (s)", x=fx(24), y=fy(1060),
                        xref="paper", yref="paper", xanchor="center", yanchor="middle",
                        textangle=-90, showarrow=False, font=dict(family=SANS, size=18, color=AXIS_COL)))
annotations.append(dict(text="Trial block", x=fx(572), y=fy(1188),
                        xref="paper", yref="paper", xanchor="center", yanchor="middle",
                        showarrow=False, font=dict(family=SANS, size=19, color=AXIS_COL)))

layout["annotations"] = annotations
fig.update_layout(**layout)
fig.write_html("out.html")
